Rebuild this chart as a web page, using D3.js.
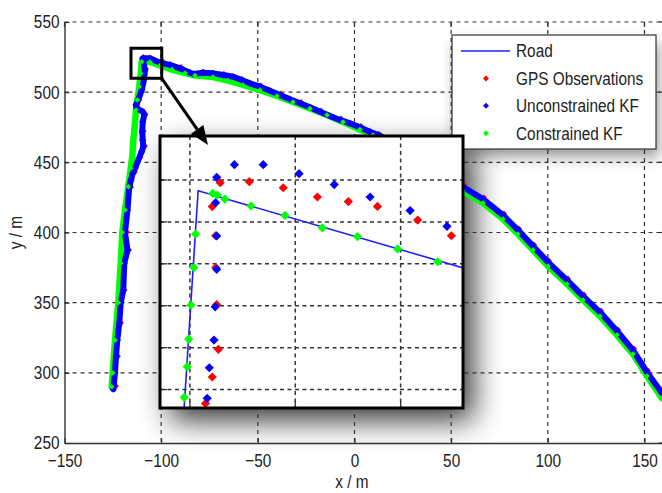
<!DOCTYPE html>
<html>
<head>
<meta charset="utf-8">
<script src="https://cdn.jsdelivr.net/npm/d3@7"></script>
<style>
  html, body { margin: 0; padding: 0; background: #fff; }
  svg { display: block; }
  text { font-family: "Liberation Sans", Arial, sans-serif; fill: #222; }
</style>
</head>
<body>
<svg id="chart" width="662" height="493"></svg>
<script>
// =============================================================================
// Road / GPS / Kalman-filter track, MATLAB style, with a magnified inset of the
// corner at the top of the straight section.
// =============================================================================

// ---- data (metres) ----------------------------------------------------------
const X_TICKS = [-150, -100, -50, 0, 50, 100, 150];
const Y_TICKS = [250, 300, 350, 400, 450, 500, 550];

const ROAD = [
  [-125.6,288],[-122.2,350],[-120.1,400],[-117.0,432.6],[-114.4,465.9],[-112.4,494.4],
  [-110.2,521.5],[-105.8,521.3],[-100.6,518.8],[-87.7,513.4],[-73.2,510.6],[-57.7,504.9],
  [-40.1,497.1],[-23.0,488.1],[-6.0,478.5],[9.6,469.3],[23.5,460.0],[39.0,445.7],
  [56.1,429.3],[76.8,409.4],[92.3,387.3],[109.9,363.1],[127.0,340.2],[144.0,313.2],[159.0,281.8],
];

const GPS_OBS = [
  [-123.36,290.6],[-122.33,311.9],[-120.78,335.5],[-118.97,359.0],[-116.64,387.5],[-117.68,400.3],
  [-115.56,432.4],[-113.54,443.1],[-110.69,453.8],[-108.36,461.6],[-109.14,472.3],[-108.10,484.4],
  [-112.50,490.1],[-109.66,502.2],[-107.85,516.5],[-109.14,525.1],[-99.57,522.6],[-89.74,517.9],
  [-78.36,514.7],[-67.50,512.9],[-58.19,509.4],[-48.36,504.7],[-38.02,499.0],[-27.67,493.0],
  [-17.33,486.9],[-6.98,481.2],[3.36,475.9],[12.67,470.2],[56.64,433.8],[66.98,424.9],
  [77.33,413.5],[85.09,402.8],[92.85,391.4],[100.60,380.0],[110.43,367.2],[118.71,355.8],
  [127.50,344.4],[136.29,330.8],[144.57,317.3],[151.81,301.6],[159.05,287.0],
];

const UNCONSTRAINED_KF = [
  [-124.76,288.4],[-123.88,300.0],[-123.36,311.4],[-122.69,323.3],[-121.66,335.2],[-120.93,349.9],
  [-119.59,359.0],[-119.07,378.0],[-117.42,387.5],[-118.71,400.1],[-117.42,416.0],[-116.49,432.6],
  [-115.61,437.4],[-114.73,442.2],[-113.54,445.7],[-111.47,452.9],[-110.07,457.6],[-109.25,461.1],
  [-109.56,465.9],[-109.77,471.8],[-109.56,478.9],[-108.74,483.7],[-109.56,486.1],[-112.66,488.5],
  [-113.02,490.8],[-111.83,494.4],[-110.07,501.5],[-108.74,509.9],[-108.38,515.8],[-109.56,524.1],
  [-105.79,524.1],[-100.60,521.0],[-95.43,519.4],[-90.26,517.0],[-85.09,513.9],[-83.38,512.9],
  [-78.21,513.9],[-73.03,513.4],[-67.86,512.2],[-62.69,511.0],[-58.35,508.7],[-54.05,506.3],
  [-48.88,503.9],[-43.71,501.0],[-38.53,498.0],[-33.36,494.9],[-28.19,492.1],[-23.02,489.2],
  [-17.85,486.1],[-12.67,483.0],[-7.50,480.2],[-2.33,477.8],[2.84,474.9],[8.02,471.8],
  [12.31,469.5],[23.53,461.6],[39.05,448.1],[49.40,438.1],[56.12,432.4],[66.47,423.8],
  [76.81,412.4],[84.57,401.7],[92.33,390.3],[100.09,378.9],[109.91,366.1],[118.19,354.7],
  [126.98,343.3],[135.78,329.8],[144.05,316.2],[151.29,300.5],[159.05,285.6],
];

const CONSTRAINED_KF = [
  [-125.59,290.1],[-125.07,300.0],[-123.88,323.3],[-122.17,349.9],[-120.93,378.0],[-120.11,400.1],
  [-118.71,416.0],[-117.00,432.6],[-115.76,445.7],[-114.93,454.0],[-114.41,465.9],[-113.54,477.8],
  [-113.02,487.3],[-112.35,494.4],[-111.31,503.9],[-110.59,513.4],[-110.07,521.7],[-105.79,521.5],
  [-100.60,519.0],[-94.39,516.1],[-87.67,513.6],[-82.50,511.9],[-73.19,510.8],[-65.44,508.3],
  [-57.67,505.1],[-48.88,501.5],[-40.09,497.3],[-31.81,493.0],[-23.02,488.3],[-14.22,483.7],
  [-5.95,478.7],[2.84,473.4],[9.57,469.5],[23.53,460.2],[39.05,445.9],[49.40,436.0],
  [56.12,429.5],[66.47,421.0],[76.81,409.6],[84.57,398.9],[92.33,387.5],[100.09,376.1],
  [109.91,363.3],[118.19,351.9],[126.98,340.4],[135.78,326.9],[144.05,313.4],[151.29,297.7],[159.05,282.0],
];

// region marked by the small square
const ZOOM_BOX = { x: [-115.6, -99.7], y: [509.9, 531.3] };

// magnified view (its own frame)
const INSET_X_DOMAIN = [-116.42, -102.04];
const INSET_Y_DOMAIN = [517.12, 530.10];
const INSET_X_TICKS = [-115, -110, -105];
const INSET_Y_TICKS = [518, 520, 522, 524, 526, 528];

const INSET_ROAD = [[-115.29,516.9],[-114.61,527.49],[-101.5,523.65]];
const INSET_GPS = [
  [-114.26,517.34],[-113.94,518.60],[-113.65,519.92],[-113.73,522.05],[-113.77,523.82],
  [-113.78,525.34],[-113.94,526.73],[-113.56,527.87],[-112.18,527.92],[-110.57,527.63],
  [-108.95,527.19],[-107.48,526.97],[-106.10,526.74],[-104.19,526.09],[-102.59,525.34],
];
const INSET_UKF = [
  [-114.18,517.58],[-114.08,519.04],[-113.86,520.36],[-113.80,521.95],[-113.73,523.74],
  [-113.73,525.33],[-113.78,526.92],[-113.73,528.13],[-112.89,528.73],[-111.52,528.73],
  [-109.82,528.30],[-108.15,527.78],[-106.45,527.19],[-104.55,526.54],[-102.80,525.79],
];
const INSET_CKF = [
  [-115.27,517.63],[-115.13,519.09],[-115.06,520.41],[-114.95,522.03],[-114.81,523.82],
  [-114.73,525.42],[-113.92,527.36],[-113.70,527.28],[-113.34,527.09],[-112.10,526.76],
  [-110.49,526.31],[-108.72,525.72],[-107.05,525.30],[-105.14,524.71],[-103.24,524.10],
];

const LEGEND_ITEMS = [
  { label: "Road",               kind: "line",   color: "#1f1fff" },
  { label: "GPS Observations",   kind: "marker", color: "#ff0000" },
  { label: "Unconstrained KF",   kind: "marker", color: "#0000ff" },
  { label: "Constrained KF",     kind: "marker", color: "#00ff00" },
];

// ---- layout -----------------------------------------------------------------
const FRAME = { left: 64.5, right: 663.8, top: 22, bottom: 443 };
const INSET = { left: 160, top: 136, width: 303, height: 272 };
const LEG = { left: 452, top: 35, width: 204, height: 114, row: 27.4 };
const COLORS = { gps: "#ff0000", ukf: "#0000ff", ckf: "#00ff00", road: "#1f1fff" };
const FONT = 18.5;
const SQUEEZE = 0.83;   // the original face is a condensed one

const svg = d3.select("#chart");
const x = d3.scaleLinear().domain([-150, 160]).range([FRAME.left, FRAME.right]);
const y = d3.scaleLinear().domain([250, 550]).range([FRAME.bottom, FRAME.top]);

const diamond = (r) => `M0,${-r}L${r},0L0,${r}L${-r},0Z`;

// move each text's x into a transform so it can be squeezed horizontally
function narrow(sel) {
  sel.each(function () {
    const t = d3.select(this);
    const tx = +t.attr("x") || 0;
    t.attr("x", 0).attr("transform", `translate(${tx},0) scale(${SQUEEZE},1)`);
  });
}

const defs = svg.append("defs");
defs.append("filter").attr("id", "blurBig").attr("x", "-50%").attr("y", "-50%")
  .attr("width", "200%").attr("height", "200%")
  .append("feGaussianBlur").attr("stdDeviation", 15);
defs.append("filter").attr("id", "blurSmall").attr("x", "-50%").attr("y", "-50%")
  .attr("width", "200%").attr("height", "200%")
  .append("feGaussianBlur").attr("stdDeviation", 7);
defs.append("clipPath").attr("id", "clipMain").append("rect")
  .attr("x", FRAME.left).attr("y", FRAME.top - 5)
  .attr("width", FRAME.right - FRAME.left).attr("height", FRAME.bottom - FRAME.top + 5);
defs.append("clipPath").attr("id", "clipInset").append("rect")
  .attr("x", INSET.left).attr("y", INSET.top).attr("width", INSET.width).attr("height", INSET.height);

svg.append("rect").attr("width", 662).attr("height", 493).attr("fill", "#fff");

// shadows sit behind everything
svg.append("rect")
  .attr("x", INSET.left + 10).attr("y", INSET.top + 12)
  .attr("width", INSET.width).attr("height", INSET.height)
  .attr("fill", "#000").attr("opacity", 0.8).attr("filter", "url(#blurBig)");
svg.append("rect")
  .attr("x", LEG.left + 3).attr("y", LEG.top + 8)
  .attr("width", LEG.width).attr("height", LEG.height)
  .attr("fill", "#000").attr("opacity", 0.4).attr("filter", "url(#blurSmall)");

// ---- main grid --------------------------------------------------------------
const grid = svg.append("g").attr("stroke", "#333").attr("stroke-width", 1.2)
  .attr("stroke-dasharray", "4,4");
grid.selectAll("line.gx").data(X_TICKS.filter((d) => d > -150)).enter().append("line")
  .attr("x1", (d) => x(d)).attr("x2", (d) => x(d))
  .attr("y1", FRAME.top).attr("y2", FRAME.bottom);
grid.selectAll("line.gy").data(Y_TICKS.filter((d) => d > 250)).enter().append("line")
  .attr("y1", (d) => y(d)).attr("y2", (d) => y(d))
  .attr("x1", FRAME.left).attr("x2", FRAME.right);

// ---- tracks -----------------------------------------------------------------
function drawBand(g, data, sx, sy, color, width) {
  g.append("path").datum(data)
    .attr("fill", "none").attr("stroke", color)
    .attr("stroke-width", width).attr("stroke-linejoin", "round").attr("stroke-linecap", "round")
    .attr("d", d3.line().x((d) => sx(d[0])).y((d) => sy(d[1])));
}
function drawMarkers(g, data, sx, sy, color, r) {
  g.selectAll(null).data(data).enter().append("path")
    .attr("transform", (d) => `translate(${sx(d[0])},${sy(d[1])})`)
    .attr("d", diamond(r)).attr("fill", color);
}

const main = svg.append("g").attr("clip-path", "url(#clipMain)");
main.append("path").datum(ROAD)
  .attr("fill", "none").attr("stroke", COLORS.road).attr("stroke-width", 1.3)
  .attr("d", d3.line().x((d) => x(d[0])).y((d) => y(d[1])));
drawMarkers(main, GPS_OBS, x, y, COLORS.gps, 3);
drawBand(main, CONSTRAINED_KF, x, y, COLORS.ckf, 6.5);
drawBand(main, UNCONSTRAINED_KF, x, y, COLORS.ukf, 6);
drawMarkers(main, UNCONSTRAINED_KF, x, y, COLORS.ukf, 3.6);
drawMarkers(main, CONSTRAINED_KF, x, y, COLORS.ckf, 2.8);

// ---- axes -------------------------------------------------------------------
function styleAxis(g) {
  g.select(".domain").attr("stroke", "#333").attr("stroke-width", 1.4);
  g.selectAll(".tick line").attr("stroke", "#333").attr("stroke-width", 1.2);
  g.selectAll(".tick text").attr("font-size", FONT).attr("font-family", null).attr("fill", "#222")
    .call(narrow);
}
svg.append("g").attr("transform", `translate(0,${FRAME.bottom})`)
  .call(d3.axisBottom(x).tickValues(X_TICKS).tickSizeInner(-5).tickSizeOuter(0).tickPadding(11))
  .call(styleAxis);
svg.append("g").attr("transform", `translate(${FRAME.left},0)`)
  .call(d3.axisLeft(y).tickValues(Y_TICKS).tickSizeInner(-5).tickSizeOuter(0).tickPadding(5))
  .call(styleAxis);

// mirrored ticks on top and right (no box line on top)
const ticks = svg.append("g").attr("stroke", "#333").attr("stroke-width", 1.2);
ticks.selectAll(null).data(X_TICKS).enter().append("line")
  .attr("x1", (d) => x(d)).attr("x2", (d) => x(d)).attr("y1", FRAME.top).attr("y2", FRAME.top + 5);
ticks.selectAll(null).data(Y_TICKS).enter().append("line")
  .attr("y1", (d) => y(d)).attr("y2", (d) => y(d)).attr("x1", FRAME.right).attr("x2", FRAME.right - 5);

svg.append("text").attr("x", 352).attr("y", 488)
  .attr("text-anchor", "middle").attr("font-size", FONT).text("x / m").call(narrow);
svg.append("text").attr("transform", `translate(15.5,232.5) rotate(-90) scale(${SQUEEZE},1)`)
  .attr("text-anchor", "middle").attr("dy", "0.35em").attr("font-size", FONT).text("y / m");

// ---- legend -----------------------------------------------------------------
const leg = svg.append("g");
leg.append("rect").attr("x", LEG.left).attr("y", LEG.top)
  .attr("width", LEG.width).attr("height", LEG.height)
  .attr("fill", "#fff").attr("stroke", "#333").attr("stroke-width", 1.2);
const rows = leg.selectAll("g.row").data(LEGEND_ITEMS).enter().append("g")
  .attr("transform", (d, i) => `translate(${LEG.left},${LEG.top + 16 + i * LEG.row})`);
rows.filter((d) => d.kind === "line").append("line")
  .attr("x1", 9).attr("x2", 58).attr("stroke", (d) => d.color).attr("stroke-width", 1.5);
rows.filter((d) => d.kind === "marker").append("path")
  .attr("transform", "translate(34,0)").attr("d", diamond(3)).attr("fill", (d) => d.color);
rows.append("text").attr("x", 64).attr("dy", "0.35em").attr("font-size", FONT)
  .text((d) => d.label).call(narrow);

// ---- zoom square ------------------------------------------------------------
svg.append("rect")
  .attr("x", x(ZOOM_BOX.x[0])).attr("y", y(ZOOM_BOX.y[1]))
  .attr("width", x(ZOOM_BOX.x[1]) - x(ZOOM_BOX.x[0]))
  .attr("height", y(ZOOM_BOX.y[0]) - y(ZOOM_BOX.y[1]))
  .attr("fill", "none").attr("stroke", "#000").attr("stroke-width", 3);

// ---- inset ------------------------------------------------------------------
const ix = d3.scaleLinear().domain(INSET_X_DOMAIN).range([INSET.left, INSET.left + INSET.width]);
const iy = d3.scaleLinear().domain(INSET_Y_DOMAIN).range([INSET.top + INSET.height, INSET.top]);

const inset = svg.append("g");
inset.append("rect").attr("x", INSET.left).attr("y", INSET.top)
  .attr("width", INSET.width).attr("height", INSET.height).attr("fill", "#fff");
const ib = inset.append("g").attr("clip-path", "url(#clipInset)");
const igrid = ib.append("g").attr("stroke", "#333").attr("stroke-width", 1.5).attr("stroke-dasharray", "4,3.5");
igrid.selectAll(null).data(INSET_X_TICKS).enter().append("line")
  .attr("x1", (d) => ix(d)).attr("x2", (d) => ix(d)).attr("y1", INSET.top).attr("y2", INSET.top + INSET.height);
igrid.selectAll(null).data(INSET_Y_TICKS).enter().append("line")
  .attr("y1", (d) => iy(d)).attr("y2", (d) => iy(d)).attr("x1", INSET.left).attr("x2", INSET.left + INSET.width);
const iticks = ib.append("g").attr("stroke", "#333").attr("stroke-width", 1.3);
iticks.selectAll(null).data(INSET_X_TICKS).enter().append("line")
  .attr("x1", (d) => ix(d)).attr("x2", (d) => ix(d))
  .attr("y1", INSET.top + INSET.height).attr("y2", INSET.top + INSET.height - 7);
iticks.selectAll(null).data(INSET_Y_TICKS).enter().append("line")
  .attr("y1", (d) => iy(d)).attr("y2", (d) => iy(d)).attr("x1", INSET.left).attr("x2", INSET.left + 7);

ib.append("path").datum(INSET_ROAD)
  .attr("fill", "none").attr("stroke", COLORS.road).attr("stroke-width", 1.6)
  .attr("d", d3.line().x((d) => ix(d[0])).y((d) => iy(d[1])));
drawMarkers(ib, INSET_GPS, ix, iy, COLORS.gps, 4.6);
drawMarkers(ib, INSET_UKF, ix, iy, COLORS.ukf, 4.6);
drawMarkers(ib, INSET_CKF, ix, iy, COLORS.ckf, 4.6);

inset.append("rect").attr("x", INSET.left).attr("y", INSET.top)
  .attr("width", INSET.width).attr("height", INSET.height)
  .attr("fill", "none").attr("stroke", "#000").attr("stroke-width", 3);

// ---- arrow from square to inset ----------------------------------------------
const a0 = [x(ZOOM_BOX.x[1]), y(ZOOM_BOX.y[0])];
const a1 = [INSET.left + 48, INSET.top + 9];
const len = Math.hypot(a1[0] - a0[0], a1[1] - a0[1]);
const ux = (a1[0] - a0[0]) / len, uy = (a1[1] - a0[1]) / len;
const headL = 19, headW = 7.5;
const base = [a1[0] - ux * headL, a1[1] - uy * headL];
svg.append("line").attr("x1", a0[0]).attr("y1", a0[1]).attr("x2", base[0]).attr("y2", base[1])
  .attr("stroke", "#000").attr("stroke-width", 3);
svg.append("path").attr("fill", "#000")
  .attr("d", `M${a1[0]},${a1[1]}L${base[0] - uy * headW},${base[1] + ux * headW}L${base[0] + uy * headW},${base[1] - ux * headW}Z`);
</script>
</body>
</html>
